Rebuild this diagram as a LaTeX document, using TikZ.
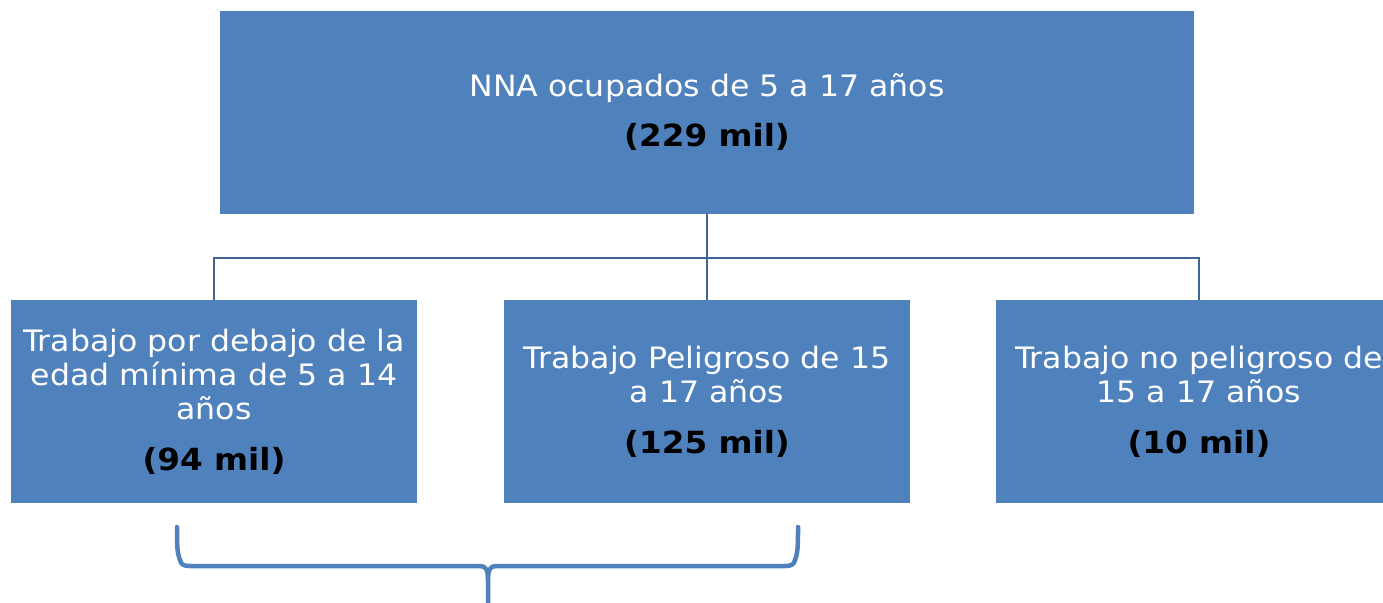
\documentclass[tikz,border=0pt]{standalone}
\usepackage{fontspec}
\setmainfont{DejaVu Sans}[FakeStretch=1.07]
\definecolor{boxblue}{HTML}{4F81BD}
\definecolor{lineblue}{HTML}{3F6695}
\newcommand{\numtxt}[1]{{\fontsize{30.5}{34}\selectfont\bfseries\color{black}#1}}
\begin{document}
\begin{tikzpicture}[x=1pt,y=-1pt,
  box/.style={fill=boxblue, draw=none, inner sep=0pt, align=center, text=white,
    font=\fontsize{29.5}{34}\selectfont},
  conn/.style={draw=lineblue, line width=2.6pt},
  bracestyle/.style={draw=boxblue, line width=4.5pt, line cap=round}]
\useasboundingbox (0,0) rectangle (1383,602);
\clip (0,0) rectangle (1383,602);
\node[box, minimum width=974pt, minimum height=203pt] (top) at (707,112.5)
  {NNA ocupados de 5 a 17 años\\[16pt]\numtxt{(229 mil)}};
\node[box, minimum width=406pt, minimum height=203pt] (left) at (214,401.5)
  {Trabajo por debajo de la\\edad mínima de 5 a 14\\años\\[17pt]\numtxt{(94 mil)}};
\node[box, minimum width=406pt, minimum height=203pt] (mid) at (707,401.5)
  {Trabajo Peligroso de 15\\a 17 años\\[17pt]\numtxt{(125 mil)}};
\node[box, minimum width=406pt, minimum height=203pt] (right) at (1199,401.5)
  {Trabajo no peligroso de\\15 a 17 años\\[17pt]\numtxt{(10 mil)}};
\coordinate (bus) at (707,258);
\draw[conn] (top.south) -- (bus);
\draw[conn] (left.north) |- (bus) -| (right.north);
\draw[conn] (bus) -- (mid.north);
% brace
\draw[bracestyle]
  (177,527) .. controls (177,545) and (177,552) .. (180,560)
  .. controls (181,564) and (183,566) .. (190,566)
  -- (480,566) .. controls (486,566) and (488,570) .. (488,580) -- (488,604);
\draw[bracestyle]
  (798,527) .. controls (798,545) and (798,552) .. (795,560)
  .. controls (794,564) and (792,566) .. (785,566)
  -- (496,566) .. controls (490,566) and (488,570) .. (488,580);
\end{tikzpicture}
\end{document}
